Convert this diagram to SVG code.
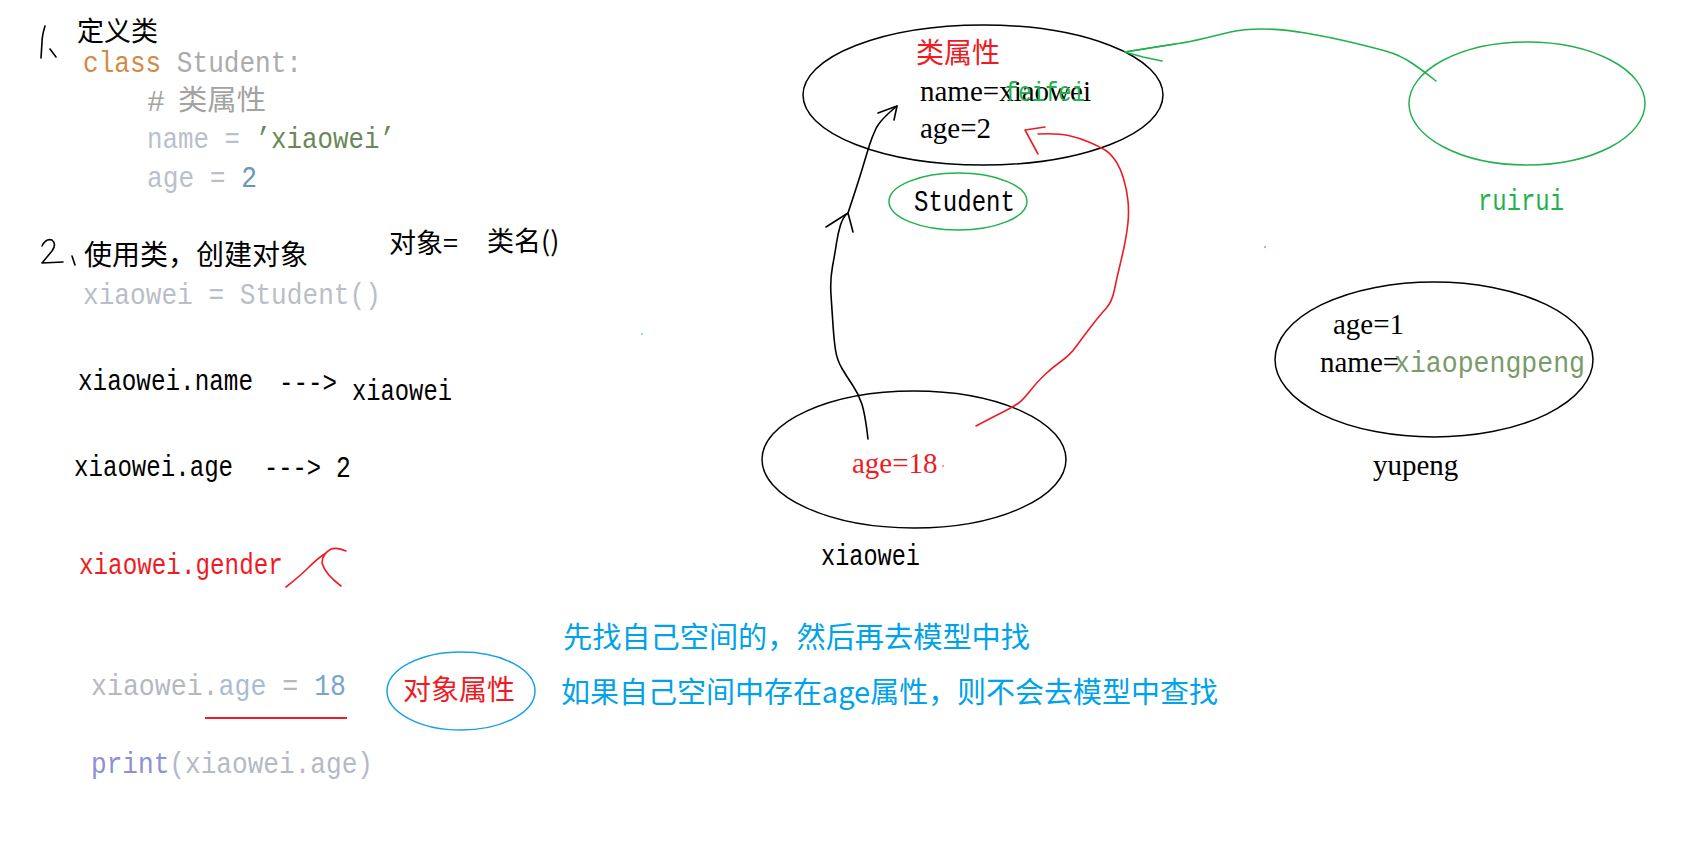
<svg xmlns="http://www.w3.org/2000/svg" width="1687" height="851" viewBox="0 0 1687 851">
<style>
.bg{fill:#ffffff}
.cjk{font-family:"Noto Sans CJK SC","Noto Sans",sans-serif}
.mono{font-family:"Liberation Mono","Noto Sans CJK SC",monospace}
.serif{font-family:"Liberation Serif","Noto Sans CJK SC",serif}
.k{fill:#000000}
.red{fill:#ed1c24}
.blue{fill:#00a2e8}
.grn{fill:#22b14c}
.ell{fill:none;stroke-width:1.5}
.hand{fill:none;stroke-width:1.6;stroke-linecap:round;stroke-linejoin:round}
</style>
<rect class="bg" x="0" y="0" width="1687" height="851"/>

<!-- left notes -->
<g id="section1">
  <path class="hand" stroke="#000" d="M45,26 Q42,36 42,42 L41,58 M50,49 L56,57"/>
  <text class="cjk k" x="77" y="41" font-size="27">定义类</text>
  <g transform="translate(83,72) scale(0.869,1)">
    <text class="mono" x="0" y="0" font-size="30" fill="#d48a45">class</text>
    <text class="mono" x="108" y="0" font-size="30" fill="#ababab">Student:</text>
  </g>
  <text class="mono" x="147" y="111" font-size="30" fill="#a3a3a3">#</text>
  <text class="cjk" x="178" y="110" font-size="28" fill="#a3a3a3" textLength="88" lengthAdjust="spacingAndGlyphs">类属性</text>
  <g transform="translate(147,148) scale(0.861,1)">
    <text class="mono" x="0" y="0" font-size="30" fill="#b9c0cb">name =</text>
    <text class="mono" x="126" y="0" font-size="30" fill="#6a8759">’xiaowei’</text>
  </g>
  <g transform="translate(147,187) scale(0.873,1)">
    <text class="mono" x="0" y="0" font-size="30" fill="#b9c0cb">age =</text>
    <text class="mono" x="108" y="0" font-size="30" fill="#6897bb">2</text>
  </g>
</g>

<g id="section2">
  <path class="hand" stroke="#000" d="M42,246 Q46,238 52,240 Q57,244 52,251 L42,263 L63,262 M72,256 L75,265"/>
  <text class="cjk k" x="84" y="265" font-size="28">使用类，创建对象</text>
  <text class="cjk k" x="389" y="253" font-size="27">对象=</text>
  <text class="cjk k" x="487" y="251" font-size="27">类名()</text>
  <text class="mono" transform="translate(83,304) scale(0.871,1)" font-size="30" fill="#b9bec8">xiaowei = Student()</text>
  <text class="mono k" transform="translate(78,390) scale(0.838,1)" font-size="29">xiaowei.name</text>
  <text class="mono k" transform="translate(279,392) scale(0.833,1)" font-size="29">---&gt;</text>
  <text class="mono k" transform="translate(352,400) scale(0.821,1)" font-size="29">xiaowei</text>
  <text class="mono k" transform="translate(74,476) scale(0.831,1)" font-size="29">xiaowei.age</text>
  <text class="mono k" transform="translate(264,477) scale(0.819,1)" font-size="29">---&gt;</text>
  <text class="mono k" transform="translate(336,477) scale(0.85,1)" font-size="29">2</text>
  <text class="mono red" transform="translate(79,574) scale(0.837,1)" font-size="29">xiaowei.gender</text>
  <path class="hand" stroke="#ed1c24" d="M286,587 Q300,576 308,568 Q318,558 326,553 M346,551 Q338,547 331,549 Q322,554 322,563 Q325,574 341,586"/>
  <g transform="translate(91,695) scale(0.8855,1)">
    <text class="mono" x="0" y="0" font-size="30" fill="#b5b8c0">xiaowei.</text>
    <text class="mono" x="144" y="0" font-size="30" fill="#a9bdd2">age</text>
    <text class="mono" x="216" y="0" font-size="30" fill="#b5b8c0">=</text>
    <text class="mono" x="252" y="0" font-size="30" fill="#7aa5cf">18</text>
  </g>
  <line x1="205" y1="718" x2="347" y2="718" stroke="#ed1c24" stroke-width="2"/>
  <g transform="translate(91,773) scale(0.8706,1)">
    <text class="mono" x="0" y="0" font-size="30" fill="#8f8fd6">print</text>
    <text class="mono" x="90" y="0" font-size="30" fill="#b5b9c6">(xiaowei.age)</text>
  </g>
</g>

<g id="obj-attr-note">
  <ellipse class="ell" cx="461" cy="691" rx="74" ry="39" stroke="#1ba1e2"/>
  <text class="cjk red" x="403" y="700" font-size="28">对象属性</text>
</g>

<g id="lookup-note">
  <text class="cjk blue" x="563" y="648" font-size="29" textLength="467" lengthAdjust="spacingAndGlyphs">先找自己空间的，然后再去模型中找</text>
  <text class="cjk blue" x="561" y="703" font-size="29" textLength="657" lengthAdjust="spacingAndGlyphs">如果自己空间中存在age属性，则不会去模型中查找</text>
</g>

<!-- class Student -->
<g id="class-student">
  <ellipse class="ell" cx="983" cy="95" rx="180" ry="70" stroke="#000"/>
  <text class="cjk red" x="916" y="63" font-size="28">类属性</text>
  <text class="serif k" x="920" y="101" font-size="29">name=xiaowei</text>
  <text class="mono grn" transform="translate(1005,101) scale(0.823,1)" font-size="27">feifei</text>
  <text class="serif k" x="920" y="138" font-size="29">age=2</text>
</g>

<g id="student-label">
  <ellipse class="ell" cx="958" cy="201.5" rx="69" ry="28.5" stroke="#22b14c"/>
  <text class="mono k" transform="translate(914,211) scale(0.829,1)" font-size="29">Student</text>
</g>

<g id="ruirui">
  <ellipse class="ell" cx="1527" cy="103.5" rx="118" ry="61.5" stroke="#22b14c"/>
  <text class="mono grn" transform="translate(1478,210) scale(0.824,1)" font-size="29">ruirui</text>
</g>

<g id="xiaowei-obj">
  <ellipse class="ell" cx="914" cy="459.5" rx="152" ry="68.5" stroke="#000"/>
  <text class="serif red" x="852" y="473" font-size="29">age=18</text>
  <circle cx="943" cy="466" r="0.8" fill="#ed1c24"/>
  <text class="mono k" transform="translate(821,565) scale(0.813,1)" font-size="29">xiaowei</text>
</g>

<g id="yupeng-obj">
  <ellipse class="ell" cx="1434" cy="359.5" rx="159" ry="77.5" stroke="#000"/>
  <text class="serif k" x="1333" y="334" font-size="29">age=1</text>
  <text class="serif k" x="1320" y="372" font-size="29">name=</text>
  <text class="mono" transform="translate(1394,372) scale(0.915,1)" font-size="29" fill="#7b9a6a">xiaopengpeng</text>
  <text class="serif k" x="1373" y="475" font-size="29">yupeng</text>
</g>

<g id="stray-dots">
  <circle cx="1265" cy="247" r="0.8" fill="#ed1c24"/>
  <circle cx="642" cy="334" r="0.8" fill="#22b14c"/>
</g>

<!-- connectors -->
<g id="connectors">
  <path class="hand" stroke="#000" d="M868,439 Q865,413 861.5,403 Q858,393 852.5,385 Q847,377 842,368.5 Q837,360 835.5,350 Q834,340 833,325 Q832,310 831,295 Q830,280 832.5,266.5 Q835,253 836.5,243 Q838,233 840.5,225 Q843,217 848,213 Q858,183 862.5,168 Q867,153 869.5,145 Q872,137 876,128.5 Q880,120 897,106"/>
  <path class="hand" stroke="#000" d="M826,227 L848,213 L853,232"/>
  <path class="hand" stroke="#000" d="M878,113 L897,106 L894,120"/>
  <path class="hand" stroke="#ed1c24" d="M976,426 Q993,417 1003,412 Q1013,407 1018,403.5 Q1023,400 1030,391 Q1037,382 1045,374.5 Q1053,367 1061.5,361 Q1070,355 1076.5,346 Q1083,337 1091.5,326 Q1100,315 1106,308.5 Q1112,302 1114.5,289.5 Q1117,277 1119.5,267 Q1122,257 1124.5,245 Q1127,233 1128,222.5 Q1129,212 1128,201 Q1127,190 1123.5,178.5 Q1120,167 1115,160 Q1110,153 1105,150 Q1100,147 1090,142.5 Q1080,138 1068.5,135.5 Q1057,133 1038,134"/>
  <path class="hand" stroke="#ed1c24" d="M1045,127 L1025,130 L1038,154"/>
  <path class="hand" stroke="#22b14c" d="M1436,81 Q1425,72 1412.5,63.5 Q1400,55 1385.5,51 Q1371,47 1350,42 Q1329,37 1305.5,33 Q1282,29 1262.5,29 Q1243,29 1230.5,32 Q1218,35 1203.5,38.5 Q1189,42 1178.5,43.5 Q1168,45 1155.5,47 Q1143,49 1125,52"/>
  <path class="hand" stroke="#22b14c" d="M1175,44 L1125,52 L1143,57 L1162,61"/>
</g>
</svg>
